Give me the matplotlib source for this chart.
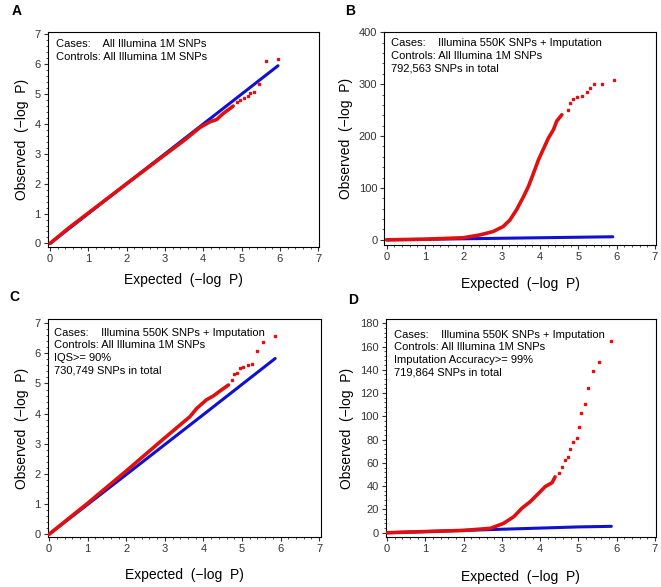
import matplotlib
matplotlib.use("Agg")
import matplotlib.pyplot as plt
from matplotlib.ticker import AutoMinorLocator, MultipleLocator

plt.rcParams['font.family'] = ['Liberation Sans', 'DejaVu Sans']

# panel A: both all Illumina 1M
a_blue_x = [0, 1, 2, 3, 4, 4.8, 5.3, 5.95]
a_blue_y = [0, 1, 2, 3, 4, 4.8, 5.3, 5.95]
a_red_x = [0, 0.5, 1, 2, 3, 3.5, 3.91, 4.17, 4.35, 4.52, 4.70, 4.78]
a_red_y = [0, 0.53, 1.02, 2.0, 2.97, 3.45, 3.88, 4.07, 4.15, 4.35, 4.52, 4.60]
a_tail_x = [4.87, 4.97, 5.05, 5.16, 5.23, 5.33, 5.45, 5.63, 5.94]
a_tail_y = [4.73, 4.80, 4.86, 4.93, 5.04, 5.07, 5.34, 6.10, 6.16]

# panel B: 550K + imputation
b_blue_x = [0, 2, 4, 5.0, 5.9]
b_blue_y = [0, 2, 4, 5.0, 5.9]
b_red_x = [0, 1, 2, 2.44, 2.78, 3.04, 3.22, 3.39, 3.57, 3.70, 3.83, 3.96, 4.04,
           4.22, 4.35, 4.44, 4.57]
b_red_y = [0, 1.2, 4, 9.6, 16, 25.6, 38.5, 58, 83, 103, 128, 154, 167,
           196, 212, 229, 241]
b_tail_x = [4.72, 4.79, 4.87, 4.96, 5.09, 5.22, 5.31, 5.42, 5.61, 5.92]
b_tail_y = [250, 263, 272, 275, 278, 284.6, 292, 300, 300, 308]

# panel C: IQS >= 90%
c_blue_x = [0, 2, 4, 5.0, 5.86]
c_blue_y = [0, 1.98, 3.97, 4.97, 5.83]
c_red_x = [0, 1, 2, 3, 3.65, 3.83, 4.08, 4.26, 4.47, 4.65]
c_red_y = [0, 1.03, 2.1, 3.2, 3.90, 4.18, 4.46, 4.59, 4.79, 4.95]
c_tail_x = [4.73, 4.78, 4.86, 4.95, 5.03, 5.16, 5.25, 5.38, 5.54, 5.86]
c_tail_y = [5.12, 5.32, 5.36, 5.51, 5.56, 5.62, 5.64, 6.09, 6.39, 6.56]

# panel D: imputation accuracy >= 99%
d_blue_x = [0, 2, 4, 5.0, 5.86]
d_blue_y = [0, 2, 4, 5.0, 5.5]
d_red_x = [0, 1, 2, 2.70, 3.04, 3.31, 3.52, 3.74, 3.96, 4.13, 4.31, 4.39]
d_red_y = [0, 1, 2, 3.8, 8, 13.8, 21, 26.7, 33.9, 39.6, 43, 48]
d_tail_x = [4.48, 4.57, 4.66, 4.73, 4.79, 4.86, 4.96, 5.01, 5.07, 5.16, 5.26,
            5.38, 5.55, 5.86]
d_tail_y = [51, 56.8, 62.5, 65.4, 72, 78.3, 81.7, 90.6, 102.9, 111, 124.4,
            139, 146.5, 164.8]

xlabel = "Expected  (\u2212log  P)"
ylabel = "Observed  (\u2212log  P)"

panels = [
    ("A", [0.0722, 0.5797, 0.4104, 0.3663], (-0.06, 7.02), (-0.11, 7.09), 1, 1,
     ["Cases:    All Illumina 1M SNPs", "Controls: All Illumina 1M SNPs"],
     a_blue_x, a_blue_y, a_red_x, a_red_y, a_tail_x, a_tail_y, (12, 11), (55.7, 44.3), 7, 4),
    ("B", [0.5814, 0.5826, 0.4106, 0.3624], (-0.06, 7.02), (-10, 400), 1, 100,
     ["Cases:    Illumina 550K SNPs + Imputation", "Controls: All Illumina 1M SNPs",
      "792,563 SNPs in total"],
     b_blue_x, b_blue_y, b_red_x, b_red_y, b_tail_x, b_tail_y, (345, 11), (391, 43), 11, 4),
    ("C", [0.0722, 0.0847, 0.413, 0.3714], (-0.035, 7.04), (-0.1, 7.13), 1, 1,
     ["Cases:    Illumina 550K SNPs + Imputation", "Controls: All Illumina 1M SNPs",
      "IQS>= 90%", "730,749 SNPs in total"],
     c_blue_x, c_blue_y, c_red_x, c_red_y, c_tail_x, c_tail_y, (9, 297), (54, 332.7), 10, 4),
    ("D", [0.584, 0.0857, 0.408, 0.3704], (-0.03, 7.02), (-3.4, 183.4), 1, 20,
     ["Cases:    Illumina 550K SNPs + Imputation", "Controls: All Illumina 1M SNPs",
      "Imputation Accuracy>= 99%", "719,864 SNPs in total"],
     d_blue_x, d_blue_y, d_red_x, d_red_y, d_tail_x, d_tail_y, (348, 300), (394, 334.7), 12, 5),
]

W, H = 661, 587
fig = plt.figure(figsize=(W / 100, H / 100), dpi=100)

for (letter, rect, xl, yl, xstep, ystep, lines, bx, by, rx, ry, tx, ty,
     lpos, tpos, xpad, ypad) in panels:
    ax = fig.add_axes(rect)
    ax.plot(bx, by, color="#1010d0", lw=2.2, solid_capstyle="round", zorder=2)
    ax.plot(rx, ry, color="#e01010", lw=2.6, solid_capstyle="round", zorder=3)
    ax.plot(tx, ty, ls="none", marker="s", ms=1.8, color="#e01010", zorder=3)
    ax.set_xlim(*xl)
    ax.set_ylim(*yl)
    ax.xaxis.set_major_locator(MultipleLocator(xstep))
    ax.yaxis.set_major_locator(MultipleLocator(ystep))
    ax.xaxis.set_minor_locator(AutoMinorLocator(5))
    ax.yaxis.set_minor_locator(AutoMinorLocator(5))
    ax.tick_params(which="major", length=3, width=0.8, labelsize=8, pad=2,
                   colors="#333333")
    ax.tick_params(which="minor", length=1.5, width=0.6, colors="#333333")
    for s in ax.spines.values():
        s.set_linewidth(0.8)
    ax.set_xlabel(xlabel, fontsize=10, labelpad=xpad)
    ax.set_ylabel(ylabel, fontsize=10, labelpad=ypad)
    for i, t in enumerate(lines):
        fig.text(tpos[0] / W, 1 - (tpos[1] + i * 12.7) / H, t, fontsize=8,
                 va="center", ha="left")
    fig.text(lpos[0] / W, 1 - lpos[1] / H, letter, fontsize=10,
             fontweight="bold", va="center", ha="left")

fig.savefig("out.png", dpi=100)
